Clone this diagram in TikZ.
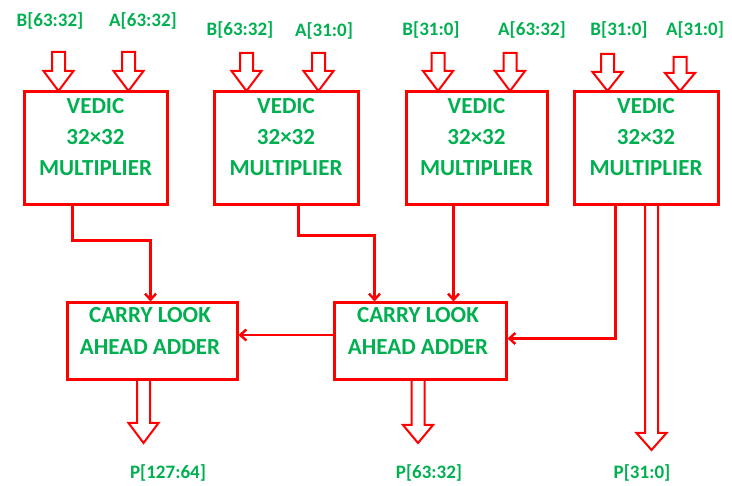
\documentclass[tikz,border=0pt]{standalone}
\usepackage{fontspec}
\setmainfont{Carlito}
\usetikzlibrary{arrows.meta}
\definecolor{lg}{HTML}{00B050}
\definecolor{rr}{HTML}{FF0000}
% input block arrow: x, ytop, yneck, ytip
\newcommand\inarrow[4]{%
  \draw[rr, line width=2pt, line join=miter]
    (#1-6.5,#2) -- (#1+6.5,#2) -- (#1+6.5,#3) -- (#1+15,#3) -- (#1,#4)
    -- (#1-15,#3) -- (#1-6.5,#3) -- cycle;}
% output block arrow (open at the top)
\newcommand\outarrow[4]{%
  \draw[rr, line width=2pt, line join=miter]
    (#1-6.5,#2) -- (#1-6.5,#3) -- (#1-15,#3) -- (#1,#4)
    -- (#1+15,#3) -- (#1+6.5,#3) -- (#1+6.5,#2);}
\begin{document}
\begin{tikzpicture}[x=1pt,y=-1pt,
  vbox/.style={draw=rr, line width=3pt, minimum width=#1, minimum height=113, inner sep=0pt},
  cbox/.style={draw=rr, line width=3pt, minimum width=#1, minimum height=77, inner sep=0pt},
  txt/.style={text=lg, font=\fontsize{23}{31}\selectfont\bfseries, align=center, inner sep=0pt},
  lbl/.style={text=lg, font=\fontsize{19}{22}\selectfont\bfseries, inner sep=0pt},
  conn/.style={draw=rr, line width=2.5pt, -{Straight Barb[length=6pt,width=11pt]}}]
\useasboundingbox (0,0) rectangle (732,486);

% Vedic multipliers
\node[vbox=143] (vm1) at (95.5,148.5) {};
\node[vbox=144] (vm2) at (286,148.5) {};
\node[vbox=141] (vm3) at (476.5,148.5) {};
\node[vbox=144] (vm4) at (646,148.5) {};
\foreach \n/\x in {vm1/95.5, vm2/286, vm3/476.5, vm4/646}
  \node[txt] (\n t) at (\x,137) {VEDIC\\32×32\\MULTIPLIER};

% Carry look-ahead adders
\node[cbox=170] (cla1) at (152,341.5) {};
\node[cbox=172] (cla2) at (420,341.5) {};
\node[txt, font=\fontsize{23}{32}\selectfont\bfseries] (cla1t) at (150,331) {CARRY LOOK\\AHEAD ADDER};
\node[txt, font=\fontsize{23}{32}\selectfont\bfseries] (cla2t) at (418,331) {CARRY LOOK\\AHEAD ADDER};

% input labels
\node[lbl] (b1) at (50,21) {B[63:32]};
\node[lbl] (a1) at (143,21) {A[63:32]};
\node[lbl] (b2) at (240,30) {B[63:32]};
\node[lbl] (a2) at (324,31) {A[31:0]};
\node[lbl] (b3) at (431,30) {B[31:0]};
\node[lbl] (a3) at (532,30) {A[63:32]};
\node[lbl] (b4) at (619,30) {B[31:0]};
\node[lbl] (a4) at (695,30) {A[31:0]};

% input block arrows
\inarrow{58.5}{52}{71}{91}
\inarrow{128.5}{52}{71}{91}
\inarrow{246.5}{53}{71}{91}
\inarrow{318.5}{53}{71}{91}
\inarrow{438}{53}{71}{91}
\inarrow{510}{53}{71}{91}
\inarrow{607.5}{54}{72}{91}
\inarrow{680}{57}{73}{91}

% connectors
\coordinate (v1o) at ([xshift=50pt]vm1.south west);
\coordinate (v2o) at ([xshift=86pt]vm2.south west);
\coordinate (v3o) at ([xshift=49pt]vm3.south west);
\coordinate (v4o) at ([xshift=43pt]vm4.south west);
\draw[conn] (v1o) -- ++(0,34) -| ([xshift=85pt]cla1.north west);
\draw[conn] (v2o) -- ++(0,29) -| ([xshift=42pt]cla2.north west);
\draw[conn] (v3o) -- (v3o |- cla2.north);
\draw[conn] (v4o) |- ([yshift=3pt]cla2.east);
\coordinate (c2w) at ([yshift=6.5pt]cla2.west);
\draw[conn] (c2w) -- (c2w -| cla1.east);

% output block arrows
\outarrow{143.5}{381}{423}{443}
\outarrow{418}{381}{425}{443}
\outarrow{651.5}{206}{433}{450}

% output labels
\node[lbl] (p1) at (168,473) {P[127:64]};
\node[lbl] (p2) at (429,473) {P[63:32]};
\node[lbl] (p3) at (642,473) {P[31:0]};
\end{tikzpicture}
\end{document}
